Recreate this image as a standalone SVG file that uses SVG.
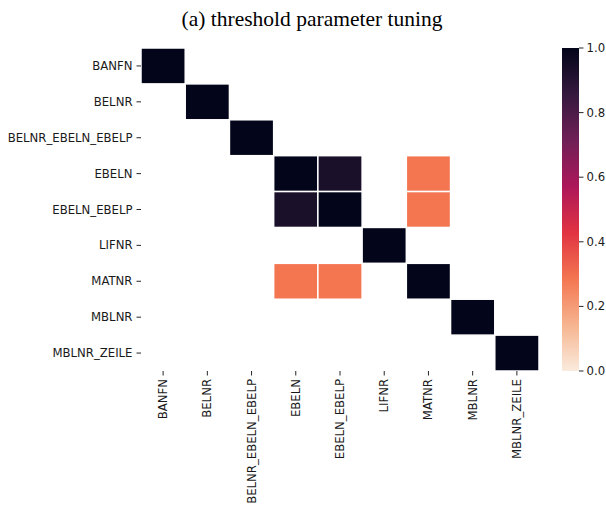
<svg xmlns="http://www.w3.org/2000/svg" width="606" height="505" viewBox="0 0 606 505">
<style>
.lbl{font-family:"DejaVu Sans",sans-serif;font-size:11.7px;fill:#1a1a1a;}
.yl{text-anchor:end;dominant-baseline:central;}
.xl{text-anchor:end;dominant-baseline:central;}
.cb{text-anchor:start;dominant-baseline:central;}
.tick{stroke:#262626;stroke-width:1;}
.cell{stroke:#ffffff;stroke-width:1.5;}
.c1{fill:#03051A;}
.c95{fill:#1a1029;}
.c3{fill:#f37651;}
.title{font-family:"Liberation Serif","Times New Roman",serif;font-size:21.5px;fill:#000;text-anchor:middle;}
</style>
<defs>
<linearGradient id="rocket" x1="0" y1="0" x2="0" y2="1">
<stop offset="0" stop-color="#03051A"/>
<stop offset="0.143" stop-color="#35193e"/>
<stop offset="0.286" stop-color="#701f57"/>
<stop offset="0.429" stop-color="#ad1759"/>
<stop offset="0.571" stop-color="#e13342"/>
<stop offset="0.714" stop-color="#f37651"/>
<stop offset="0.857" stop-color="#f6b48f"/>
<stop offset="1" stop-color="#FAEBDD"/>
</linearGradient>
</defs>
<rect width="606" height="505" fill="#ffffff"/>
<text class="title" x="312" y="26">(a) threshold parameter tuning</text>

<g id="cells">
<rect class="cell c1" x="141" y="48" width="44.22" height="35.89"/>
<rect class="cell c1" x="185.22" y="83.89" width="44.22" height="35.89"/>
<rect class="cell c1" x="229.44" y="119.78" width="44.22" height="35.89"/>
<rect class="cell c1" x="273.67" y="155.67" width="44.22" height="35.89"/>
<rect class="cell c95" x="317.89" y="155.67" width="44.22" height="35.89"/>
<rect class="cell c3" x="406.33" y="155.67" width="44.22" height="35.89"/>
<rect class="cell c95" x="273.67" y="191.56" width="44.22" height="35.89"/>
<rect class="cell c1" x="317.89" y="191.56" width="44.22" height="35.89"/>
<rect class="cell c3" x="406.33" y="191.56" width="44.22" height="35.89"/>
<rect class="cell c1" x="362.11" y="227.44" width="44.22" height="35.89"/>
<rect class="cell c3" x="273.67" y="263.33" width="44.22" height="35.89"/>
<rect class="cell c3" x="317.89" y="263.33" width="44.22" height="35.89"/>
<rect class="cell c1" x="406.33" y="263.33" width="44.22" height="35.89"/>
<rect class="cell c1" x="450.56" y="299.22" width="44.22" height="35.89"/>
<rect class="cell c1" x="494.78" y="335.11" width="44.22" height="35.89"/>
</g>

<g id="y-axis">
<g class="tick">
<line x1="136.5" y1="65.94" x2="141" y2="65.94"/>
<line x1="136.5" y1="101.83" x2="141" y2="101.83"/>
<line x1="136.5" y1="137.72" x2="141" y2="137.72"/>
<line x1="136.5" y1="173.61" x2="141" y2="173.61"/>
<line x1="136.5" y1="209.5" x2="141" y2="209.5"/>
<line x1="136.5" y1="245.39" x2="141" y2="245.39"/>
<line x1="136.5" y1="281.28" x2="141" y2="281.28"/>
<line x1="136.5" y1="317.17" x2="141" y2="317.17"/>
<line x1="136.5" y1="353.06" x2="141" y2="353.06"/>
</g>
<text class="lbl yl" x="132.5" y="65.94">BANFN</text>
<text class="lbl yl" x="132.5" y="101.83">BELNR</text>
<text class="lbl yl" x="132.5" y="137.72">BELNR_EBELN_EBELP</text>
<text class="lbl yl" x="132.5" y="173.61">EBELN</text>
<text class="lbl yl" x="132.5" y="209.5">EBELN_EBELP</text>
<text class="lbl yl" x="132.5" y="245.39">LIFNR</text>
<text class="lbl yl" x="132.5" y="281.28">MATNR</text>
<text class="lbl yl" x="132.5" y="317.17">MBLNR</text>
<text class="lbl yl" x="132.5" y="353.06">MBLNR_ZEILE</text>
</g>

<g id="x-axis">
<g class="tick">
<line x1="163.11" y1="371" x2="163.11" y2="375.5"/>
<line x1="207.33" y1="371" x2="207.33" y2="375.5"/>
<line x1="251.56" y1="371" x2="251.56" y2="375.5"/>
<line x1="295.78" y1="371" x2="295.78" y2="375.5"/>
<line x1="340" y1="371" x2="340" y2="375.5"/>
<line x1="384.22" y1="371" x2="384.22" y2="375.5"/>
<line x1="428.44" y1="371" x2="428.44" y2="375.5"/>
<line x1="472.67" y1="371" x2="472.67" y2="375.5"/>
<line x1="516.89" y1="371" x2="516.89" y2="375.5"/>
</g>
<text class="lbl xl" transform="translate(163.11,379) rotate(-90)">BANFN</text>
<text class="lbl xl" transform="translate(207.33,379) rotate(-90)">BELNR</text>
<text class="lbl xl" transform="translate(251.56,379) rotate(-90)">BELNR_EBELN_EBELP</text>
<text class="lbl xl" transform="translate(295.78,379) rotate(-90)">EBELN</text>
<text class="lbl xl" transform="translate(340,379) rotate(-90)">EBELN_EBELP</text>
<text class="lbl xl" transform="translate(384.22,379) rotate(-90)">LIFNR</text>
<text class="lbl xl" transform="translate(428.44,379) rotate(-90)">MATNR</text>
<text class="lbl xl" transform="translate(472.67,379) rotate(-90)">MBLNR</text>
<text class="lbl xl" transform="translate(516.89,379) rotate(-90)">MBLNR_ZEILE</text>
</g>

<g id="colorbar">
<rect x="562" y="48" width="17" height="323" fill="url(#rocket)"/>
<g class="tick">
<line x1="579" y1="48" x2="583.5" y2="48"/>
<line x1="579" y1="112.6" x2="583.5" y2="112.6"/>
<line x1="579" y1="177.2" x2="583.5" y2="177.2"/>
<line x1="579" y1="241.8" x2="583.5" y2="241.8"/>
<line x1="579" y1="306.4" x2="583.5" y2="306.4"/>
<line x1="579" y1="371" x2="583.5" y2="371"/>
</g>
<text class="lbl cb" x="586.5" y="48">1.0</text>
<text class="lbl cb" x="586.5" y="112.6">0.8</text>
<text class="lbl cb" x="586.5" y="177.2">0.6</text>
<text class="lbl cb" x="586.5" y="241.8">0.4</text>
<text class="lbl cb" x="586.5" y="306.4">0.2</text>
<text class="lbl cb" x="586.5" y="371">0.0</text>
</g>
</svg>
